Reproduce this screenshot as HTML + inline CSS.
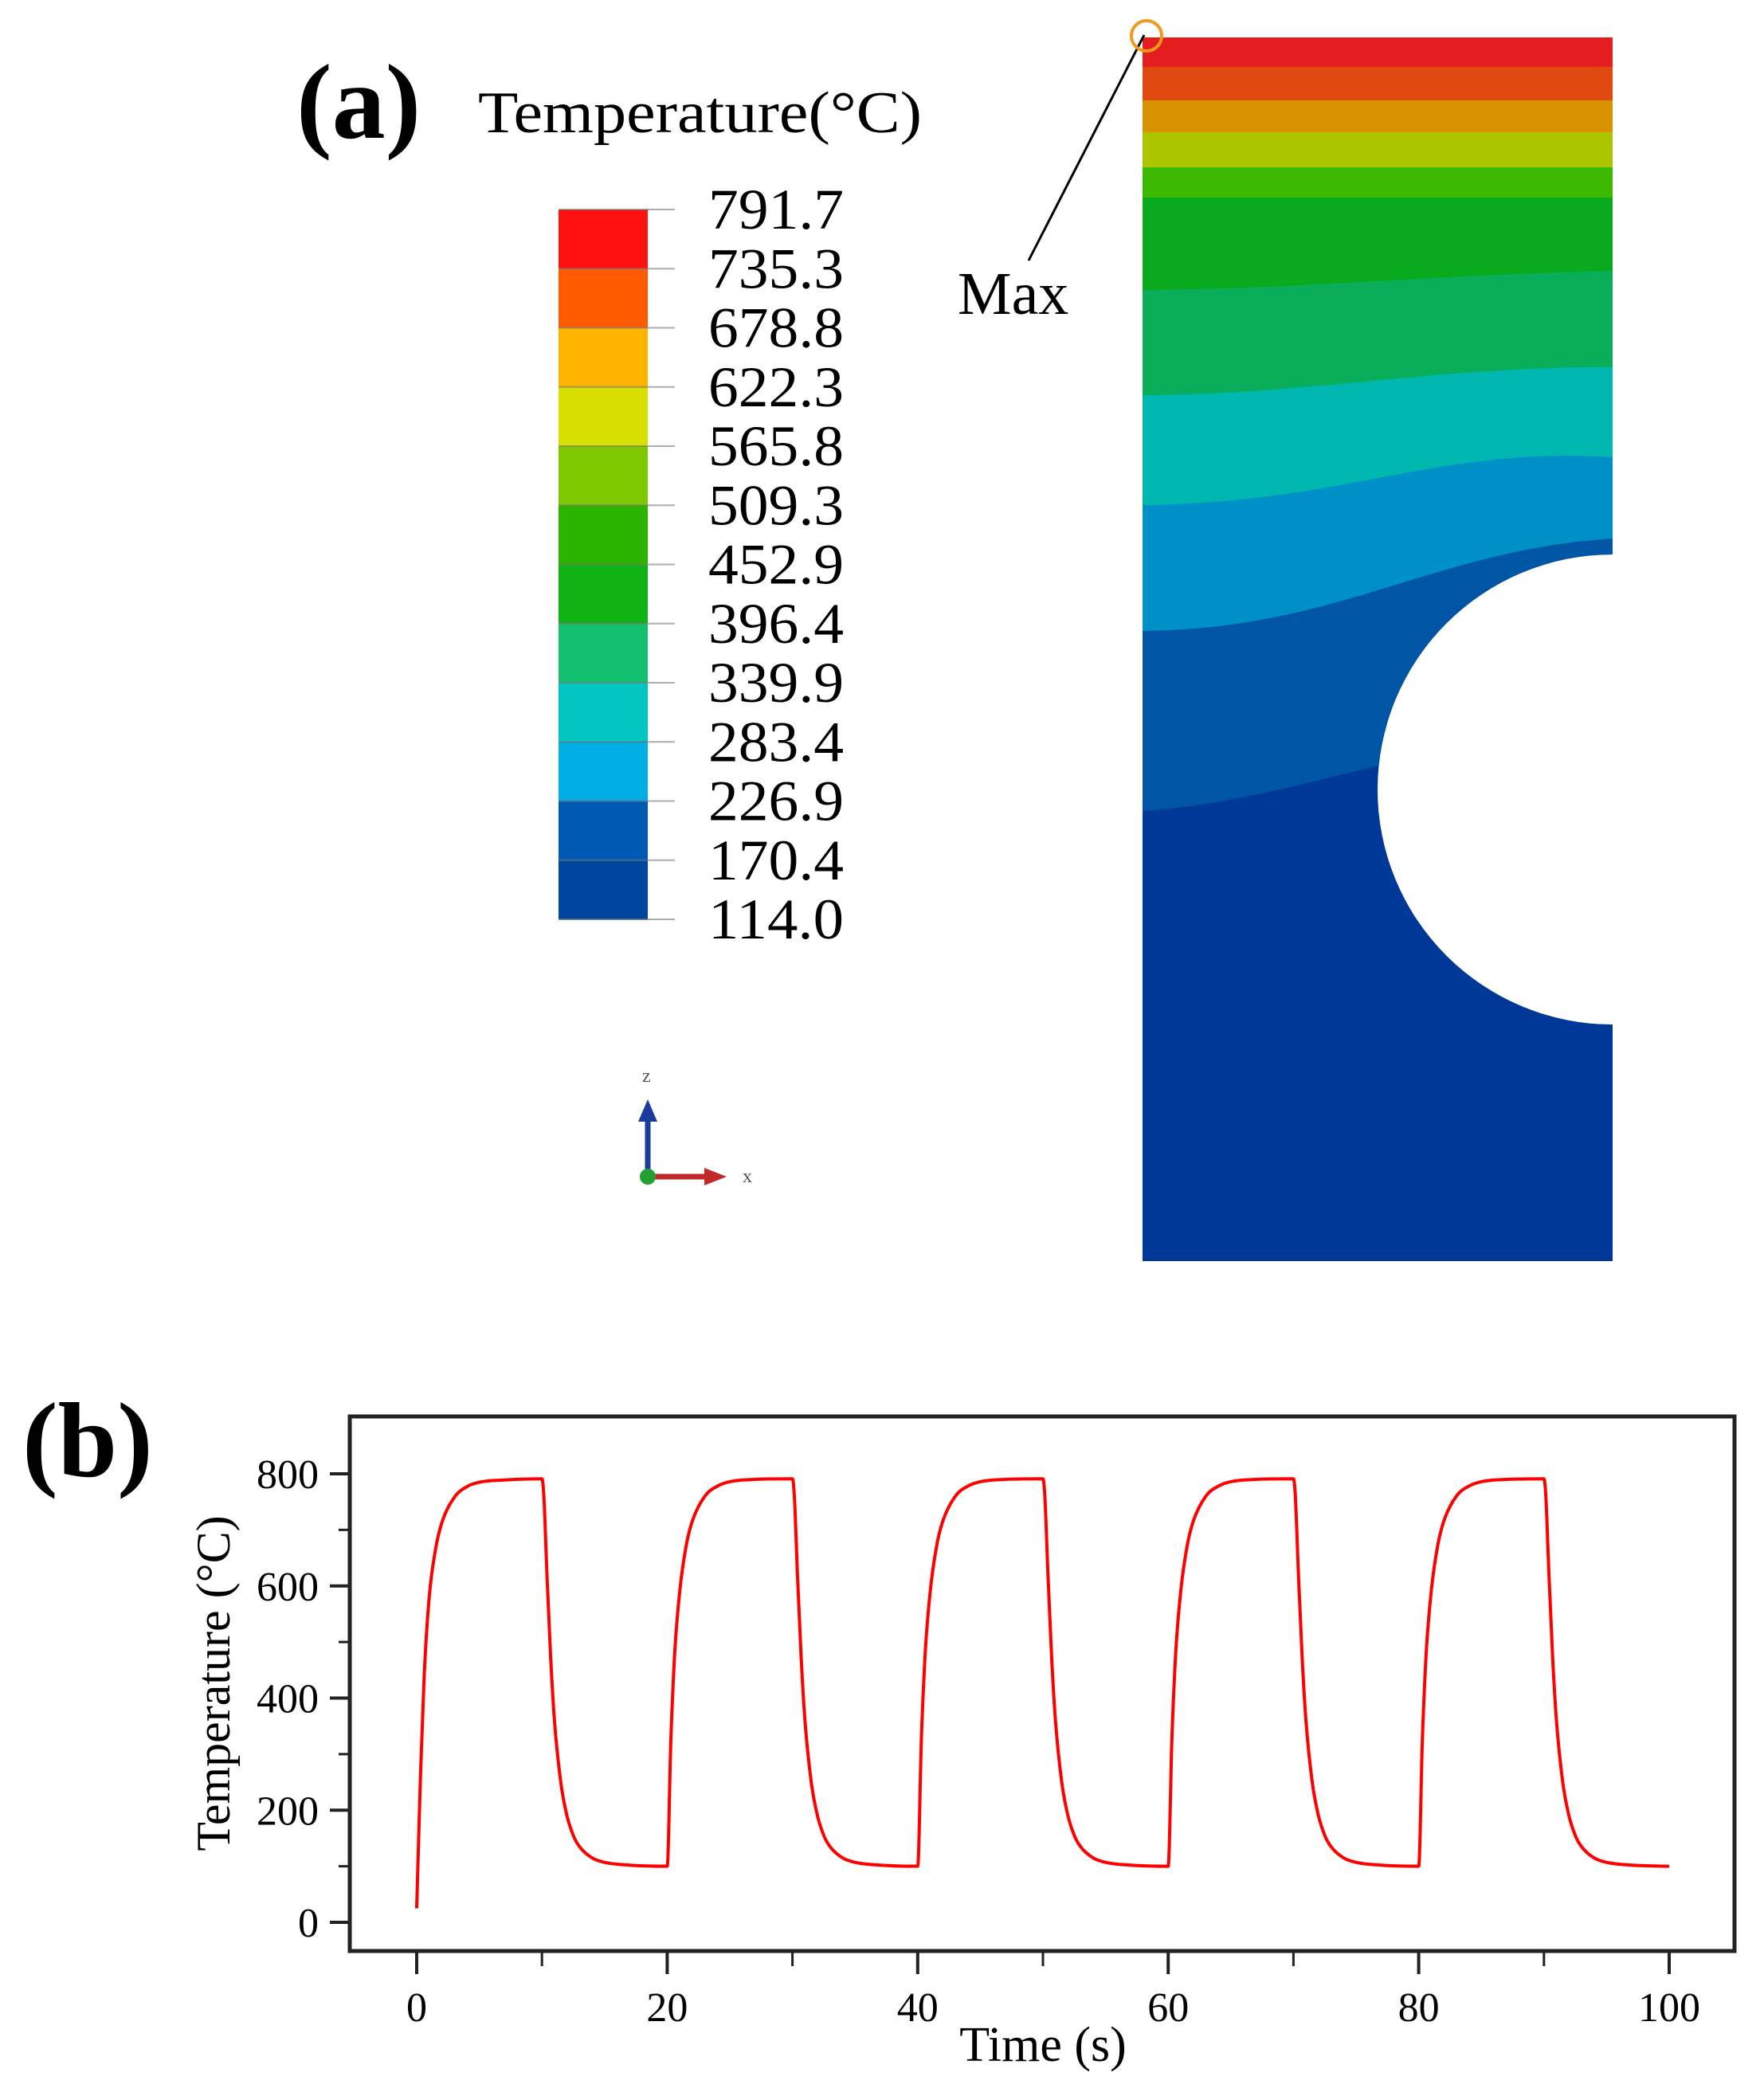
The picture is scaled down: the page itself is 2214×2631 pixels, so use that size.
<!DOCTYPE html>
<html><head><meta charset="utf-8"><style>html,body{margin:0;padding:0;background:#fff}svg{display:block}</style></head>
<body>
<svg id="fig" width="2214" height="2631" viewBox="0 0 2214 2631" xmlns="http://www.w3.org/2000/svg" font-family="Liberation Serif, serif">
<g>
<text x="372" y="173" font-size="134" font-weight="bold">(a)</text>
<text x="600" y="166" font-size="74" textLength="557" lengthAdjust="spacingAndGlyphs">Temperature(°C)</text>
<g id="legend"></g>
<g>
<line x1="813" y1="1477" x2="813" y2="1400" stroke="#1a3c9c" stroke-width="7"/>
<polygon points="813,1380 801,1408 825,1408" fill="#1a3c9c"/>
<line x1="813" y1="1477" x2="890" y2="1477" stroke="#c0282a" stroke-width="7"/>
<polygon points="912,1477 884,1466 884,1488" fill="#c0282a"/>
<circle cx="813" cy="1477" r="10" fill="#22a030"/>
<text x="806" y="1358" font-size="24" fill="#555">z</text>
<text x="932" y="1484" font-size="24" fill="#555">x</text>
</g>
<g>
<defs><clipPath id="cp"><path d="M1434,47 H2024 V696 A295,295 0 0 0 2024,1286 V1583 H1434 Z"/></clipPath></defs>
<g clip-path="url(#cp)">
<rect x="1434" y="47" width="590" height="1536" fill="#003898"/>
<path d="M1434,47 H2024 V1018 C1880,860 1700,1000 1434,1018 Z" fill="#0055a5"/>
<path d="M1434,47 H2024 V676 C1800,690 1680,790 1434,792 Z" fill="#0090c8"/>
<path d="M1434,47 H2024 V574 C1800,560 1700,630 1434,634 Z" fill="#00b8b0"/>
<path d="M1434,47 H2024 V461 C1800,460 1650,495 1434,496 Z" fill="#0aae5a"/>
<path d="M1434,47 H2024 V340 C1800,345 1650,362 1434,364 Z" fill="#0aaa1e"/>
<path d="M1434,47 H2024 V248 H1434 Z" fill="#3cb800"/>
<path d="M1434,47 H2024 V210 H1434 Z" fill="#adc500"/>
<path d="M1434,47 H2024 V166 H1434 Z" fill="#d99200"/>
<path d="M1434,47 H2024 V126 H1434 Z" fill="#e04a10"/>
<path d="M1434,47 H2024 V84 H1434 Z" fill="#e41d1f"/>
</g>
</g>
<line x1="1291" y1="327" x2="1436" y2="44" stroke="#000" stroke-width="3"/>
<circle cx="1439" cy="45" r="19" fill="none" stroke="#f39a1e" stroke-width="4"/>
<text x="1202" y="394" font-size="76">Max</text>
</g>
<g>
<text x="28" y="1853" font-size="134" font-weight="bold">(b)</text>
<rect x="439" y="1778" width="1738" height="671" fill="none" stroke="#222" stroke-width="5"/>
<g id="axes"></g>
<path id="curve" fill="none" stroke="#ff0000" stroke-width="4" stroke-linejoin="round"/>
<text x="1309" y="2587" font-size="62" text-anchor="middle">Time (s)</text>
<text transform="translate(288,2113) rotate(-90)" font-size="60" text-anchor="middle">Temperature (°C)</text>
</g>
</svg>
<script>
const legendLabels=["791.7","735.3","678.8","622.3","565.8","509.3","452.9","396.4","339.9","283.4","226.9","170.4","114.0"];
const legendColors=["#ff1010","#ff5a00","#ffb400","#d7e000","#7dc800","#2db400","#0fb414","#14c06e","#00c5c0","#00aee6","#005ab4","#0046a0"];
const xTicks=[0,20,40,60,80,100];
const yTicks=[0,200,400,600,800];
const times=[0,0.3,0.6,1,1.5,2,3,4,5,7,10,10.15,10.4,10.7,11,11.5,12,12.5,13,14,15,17,
20,20.3,20.6,21,21.5,22,23,24,25,27,30,30.15,30.4,30.7,31,31.5,32,32.5,33,34,35,37,
40,40.3,40.6,41,41.5,42,43,44,45,47,50,50.15,50.4,50.7,51,51.5,52,52.5,53,54,55,57,
60,60.3,60.6,61,61.5,62,63,64,65,67,70,70.15,70.4,70.7,71,71.5,72,72.5,73,74,75,77,
80,80.3,80.6,81,81.5,82,83,84,85,87,90,90.15,90.4,90.7,91,91.5,92,92.5,93,94,95,97,100];
const temps=[25,260,440,580,665,712,758,777,785,789,791,760,620,470,360,250,190,155,135,115,107,102,
100,330,480,590,670,715,760,778,786,790,791,760,620,470,360,250,190,155,135,115,107,102,
100,330,480,590,670,715,760,778,786,790,791,760,620,470,360,250,190,155,135,115,107,102,
100,330,480,590,670,715,760,778,786,790,791,760,620,470,360,250,190,155,135,115,107,102,
100,330,480,590,670,715,760,778,786,790,791,760,620,470,360,250,190,155,135,115,107,102,100];
const NS="http://www.w3.org/2000/svg";
const xs=t=>523+(t-0)*(2095-523)/100;
const ys=v=>2413-v*(2413-1850)/800;
function mk(tag,attrs,parent){const e=document.createElementNS(NS,tag);for(const k in attrs)e.setAttribute(k,attrs[k]);parent.appendChild(e);return e;}
const lg=document.getElementById('legend');
const lTop=263,lBot=1154,bandH=(lBot-lTop)/legendColors.length;
legendColors.forEach((c,i)=>{
  const r=mk('rect',{x:701,y:lTop+i*bandH,width:112,height:bandH+0.5,fill:c},lg);
  
  
});
legendLabels.forEach((l,i)=>{
  const y=lTop+i*bandH;
  mk('line',{x1:701,y1:y,x2:847,y2:y,stroke:'#777','stroke-width':2,opacity:0.6},lg);
  const t=mk('text',{x:889,y:y+24,'font-size':72,textLength:170,lengthAdjust:'spacingAndGlyphs'},lg);
  t.textContent=l;
  
  
});
const ax=document.getElementById('axes');
xTicks.forEach(v=>{
  mk('line',{x1:xs(v),y1:2449,x2:xs(v),y2:2478,stroke:'#222','stroke-width':4},ax);
  const t=mk('text',{x:xs(v),y:2537,'font-size':52,'text-anchor':'middle'},ax);
  t.textContent=v;
  
  
});
for(let i=0;i<5;i++){const v=xTicks[i]+10;mk('line',{x1:xs(v),y1:2449,x2:xs(v),y2:2468,stroke:'#222','stroke-width':3},ax);}
yTicks.forEach(v=>{
  mk('line',{x1:439,y1:ys(v),x2:414,y2:ys(v),stroke:'#222','stroke-width':4},ax);
  const t=mk('text',{x:400,y:ys(v)+18,'font-size':52,'text-anchor':'end'},ax);
  t.textContent=v;
  
  
});
for(let i=0;i<4;i++){const v=yTicks[i]+100;mk('line',{x1:439,y1:ys(v),x2:425,y2:ys(v),stroke:'#222','stroke-width':3},ax);}
// monotone cubic path
(function(){
  const X=times.map(xs),Y=temps.map(ys),n=X.length;
  const d=[],m=new Array(n);
  for(let i=0;i<n-1;i++)d.push((Y[i+1]-Y[i])/(X[i+1]-X[i]));
  m[0]=d[0];m[n-1]=d[n-2];
  for(let i=1;i<n-1;i++){m[i]=(d[i-1]*d[i]<=0)?0:(d[i-1]+d[i])/2;}
  for(let i=0;i<n-1;i++){
    if(d[i]===0){m[i]=0;m[i+1]=0;continue;}
    const a=m[i]/d[i],b=m[i+1]/d[i],s=a*a+b*b;
    if(s>9){const t=3/Math.sqrt(s);m[i]=t*a*d[i];m[i+1]=t*b*d[i];}
  }
  let p='M'+X[0].toFixed(1)+','+Y[0].toFixed(1);
  for(let i=0;i<n-1;i++){
    const h=(X[i+1]-X[i])/3;
    p+=' C'+(X[i]+h).toFixed(1)+','+(Y[i]+m[i]*h).toFixed(1)+' '+(X[i+1]-h).toFixed(1)+','+(Y[i+1]-m[i+1]*h).toFixed(1)+' '+X[i+1].toFixed(1)+','+Y[i+1].toFixed(1);
  }
  document.getElementById('curve').setAttribute('d',p);
})();
</script>
</body></html>
